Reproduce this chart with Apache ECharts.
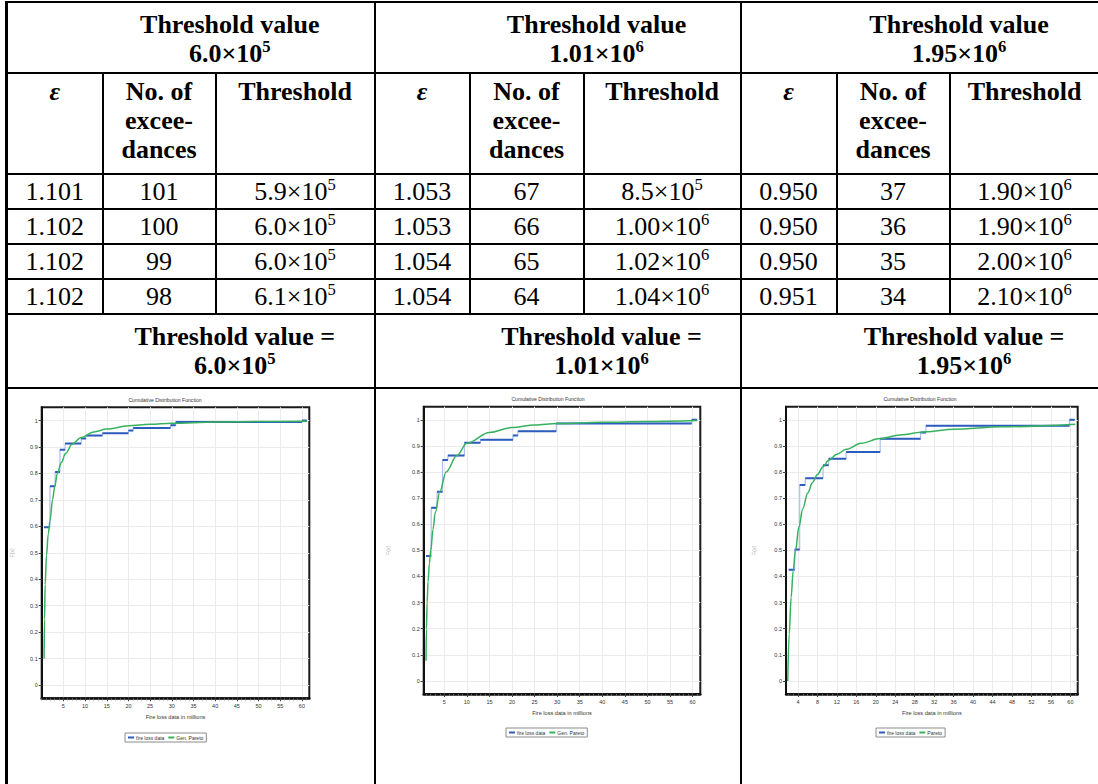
<!DOCTYPE html>
<html>
<head>
<meta charset="utf-8">
<script src="https://cdn.jsdelivr.net/npm/echarts@6/dist/echarts.min.js"></script>
<style>
  html, body { margin: 0; padding: 0; background: #fff; width: 1098px; height: 784px; overflow: hidden; }
  #tbl { position: absolute; left: 5px; top: 1px; border-collapse: collapse; table-layout: fixed; width: 1093px;
         font-family: "Liberation Serif", "Times New Roman", serif; font-size: 26px; color: #000; }
  #tbl td, #tbl th { border: 2px solid #000; padding: 0; text-align: center; line-height: 29px; overflow: hidden; }
  #tbl th { font-weight: bold; }
  #tbl tr > :first-child { border-left-width: 3px; }
  #tbl sup { font-size: 0.64em; vertical-align: super; line-height: 0; }
  #tbl tr.h1 { height: 71px; } #tbl tr.h1 th { vertical-align: middle; padding-left: 78px; padding-top: 2px; }
  #tbl tr.h2 { height: 101px; } #tbl tr.h2 th { vertical-align: top; padding-top: 3px; }
  #tbl tr.d { height: 35px; } #tbl tr.d td { vertical-align: middle; }
  #tbl tr.f { height: 74px; } #tbl tr.f th { vertical-align: middle; padding-left: 88px; }
  #tbl tr.c { height: 420px; }
  #tbl .eps { font-style: italic; }
  #chart { position: absolute; left: 0; top: 388px; width: 1098px; height: 396px; z-index: 2; }
</style>
</head>
<body>
<table id="tbl">
  <colgroup>
    <col style="width:96px"><col style="width:113px"><col style="width:159px">
    <col style="width:95px"><col style="width:114px"><col style="width:157px">
    <col style="width:96px"><col style="width:113px"><col style="width:150px">
  </colgroup>
  <tbody id="tbody"></tbody>
</table>
<div id="chart"></div>
<script>
// ---------- table content ----------
const groupThresholds = ['6.0×10<sup>5</sup>', '1.01×10<sup>6</sup>', '1.95×10<sup>6</sup>'];
const epsilonVals = [
  ['1.101', '1.102', '1.102', '1.102'],
  ['1.053', '1.053', '1.054', '1.054'],
  ['0.950', '0.950', '0.950', '0.951']
];
const exceedanceVals = [
  ['101', '100', '99', '98'],
  ['67', '66', '65', '64'],
  ['37', '36', '35', '34']
];
const thresholdVals = [
  ['5.9×10<sup>5</sup>', '6.0×10<sup>5</sup>', '6.0×10<sup>5</sup>', '6.1×10<sup>5</sup>'],
  ['8.5×10<sup>5</sup>', '1.00×10<sup>6</sup>', '1.02×10<sup>6</sup>', '1.04×10<sup>6</sup>'],
  ['1.90×10<sup>6</sup>', '1.90×10<sup>6</sup>', '2.00×10<sup>6</sup>', '2.10×10<sup>6</sup>']
];

// ---------- chart data (x in millions, y = cumulative probability) ----------
const xTicks5 = [5, 10, 15, 20, 25, 30, 35, 40, 45, 50, 55, 60];
const xTicks4 = [4, 8, 12, 16, 20, 24, 28, 32, 36, 40, 44, 48, 52, 56, 60];
const yTicks = [0, 0.1, 0.2, 0.3, 0.4, 0.5, 0.6, 0.7, 0.8, 0.9, 1];

const c1StepX = [0.55, 1.9, 3.1, 4.2, 5.4, 9.1, 10.2, 14.0, 20.0, 21.1, 29.7, 30.9, 60.0, 61.1];
const c1StepY = [0.597, 0.752, 0.805, 0.890, 0.913, 0.932, 0.943, 0.952, 0.962, 0.972, 0.982, 0.994, 1.000, 1.000];
const c1FitX = [0.55, 0.65, 0.8, 1.1, 1.5, 1.9, 2.5, 3.0, 3.6, 4.5, 5.5, 7.0, 9.0, 12.0, 15.0, 20.0, 25.0, 30.0, 40.0, 50.0, 61.2];
const c1FitY = [0.10, 0.25, 0.38, 0.49, 0.57, 0.62, 0.70, 0.75, 0.80, 0.84, 0.875, 0.91, 0.935, 0.957, 0.968, 0.980, 0.986, 0.990, 0.994, 0.996, 0.997];

const c2StepX = [0.95, 2.1, 3.4, 4.6, 5.8, 9.45, 13.0, 20.2, 21.3, 29.8, 59.8, 61.0];
const c2StepY = [0.478, 0.663, 0.724, 0.846, 0.863, 0.912, 0.923, 0.940, 0.956, 0.986, 1.000, 1.000];
const c2FitX = [0.95, 1.05, 1.2, 1.4, 1.7, 2.0, 2.5, 3.0, 4.0, 5.4, 7.8, 10.0, 15.0, 20.0, 25.0, 30.0, 40.0, 50.0, 61.0];
const c2FitY = [0.077, 0.20, 0.30, 0.38, 0.45, 0.50, 0.58, 0.645, 0.724, 0.800, 0.863, 0.910, 0.951, 0.970, 0.980, 0.986, 0.990, 0.993, 0.997];

const c3StepX = [2.09, 3.32, 4.35, 5.5, 9.15, 10.3, 13.9, 20.9, 29.2, 30.3, 59.8, 60.9];
const c3StepY = [0.426, 0.503, 0.750, 0.776, 0.826, 0.851, 0.877, 0.927, 0.951, 0.977, 1.000, 1.000];
const c3FitX = [1.9, 2.2, 2.6, 3.0, 3.5, 4.2, 5.0, 6.0, 7.0, 8.0, 9.15, 10.3, 12.0, 13.9, 17.0, 20.9, 25.0, 30.3, 36.0, 46.0, 61.0];
const c3FitY = [0.00, 0.18, 0.32, 0.42, 0.50, 0.59, 0.66, 0.72, 0.76, 0.79, 0.82, 0.845, 0.868, 0.887, 0.910, 0.928, 0.942, 0.954, 0.964, 0.973, 0.983];

const seriesNames = ['fire loss data', 'Gen. Pareto', 'Pareto'];
const chartTitle = 'Cumulative Distribution Function';
const xAxisTitle = 'Fire loss data in millions';
const yAxisTitle = 'F(x)';

// ---------- build table ----------
(function buildTable() {
  const tb = document.getElementById('tbody');
  let h = '<tr class="h1">';
  groupThresholds.forEach(t => { h += '<th colspan="3">Threshold value<br>' + t + '</th>'; });
  h += '</tr><tr class="h2">';
  for (let g = 0; g < 3; g++) h += '<th class="eps">ε</th><th>No. of<br>excee-<br>dances</th><th>Threshold</th>';
  h += '</tr>';
  for (let r = 0; r < 4; r++) {
    h += '<tr class="d">';
    for (let g = 0; g < 3; g++) h += '<td>' + epsilonVals[g][r] + '</td><td>' + exceedanceVals[g][r] + '</td><td>' + thresholdVals[g][r] + '</td>';
    h += '</tr>';
  }
  h += '<tr class="f">';
  groupThresholds.forEach(t => { h += '<th colspan="3">Threshold value =<br>' + t + '</th>'; });
  h += '</tr><tr class="c"><td colspan="3"></td><td colspan="3"></td><td colspan="3"></td></tr>';
  tb.innerHTML = h;
})();

// ---------- build charts ----------
const FONT = "'Liberation Sans Narrow', 'Arial Narrow', 'Liberation Sans', sans-serif";
const BLUE_DARK = '#2d5cbf';
const BLUE_LIGHT = '#a9c1ee';
const GREEN = '#36b25f';

const panels = [
  { grid: { left: 41.7, top: 19.3, width: 267.6, height: 291 }, xMin: 0, xMax: 61.7, ticks: xTicks5,
    stepX: c1StepX, stepY: c1StepY, fitX: c1FitX, fitY: c1FitY, fitName: seriesNames[1],
    titleX: 165, titleY: 12, nameGap: 14, yNameGap: 27, legendLeft: 125, legendTop: 345 },
  { grid: { left: 423.7, top: 18.7, width: 276.6, height: 287.3 }, xMin: 0.44, xMax: 61.7, ticks: xTicks5,
    stepX: c2StepX, stepY: c2StepY, fitX: c2FitX, fitY: c2FitY, fitName: seriesNames[1],
    titleX: 548, titleY: 11.3, nameGap: 12.5, yNameGap: 33, legendLeft: 506, legendTop: 340 },
  { grid: { left: 786, top: 18.7, width: 291.7, height: 287.3 }, xMin: 1.54, xMax: 61.5, ticks: xTicks4,
    stepX: c3StepX, stepY: c3StepY, fitX: c3FitX, fitY: c3FitY, fitName: seriesNames[2],
    titleX: 920, titleY: 11.3, nameGap: 12.5, yNameGap: 30, legendLeft: 876, legendTop: 340 }
];

const option = { backgroundColor: 'transparent', animation: false, grid: [], xAxis: [], yAxis: [], series: [], legend: [], graphic: [] };

panels.forEach((p, i) => {
  option.grid.push(Object.assign({ show: true, borderColor: '#1a1a1a', borderWidth: 2, backgroundColor: '#fff' }, p.grid));
  // main x axis
  option.xAxis.push({
    type: 'value', gridIndex: i, min: p.xMin, max: p.xMax, position: 'bottom',
    axisLine: { show: true, onZero: false, lineStyle: { color: '#111', width: 2.5 } },
    axisTick: { show: true, customValues: p.ticks, length: 3, lineStyle: { color: '#444', width: 1 } },
    axisLabel: { customValues: p.ticks, fontSize: 5.5, color: '#333', margin: 5, fontFamily: FONT },
    splitLine: { show: true, lineStyle: { color: '#ebebeb', width: 1 } },
    name: xAxisTitle, nameLocation: 'middle', nameGap: p.nameGap,
    nameTextStyle: { fontSize: 5.6, color: '#333', fontFamily: FONT }
  });
  // minor tick axis (every unit)
  const minor = [];
  for (let v = Math.ceil(p.xMin); v <= Math.floor(p.xMax); v++) if (p.ticks.indexOf(v) < 0) minor.push(v);
  option.xAxis.push({
    type: 'value', gridIndex: i, min: p.xMin, max: p.xMax, position: 'bottom',
    axisLine: { show: false, onZero: false },
    axisTick: { show: true, customValues: minor, length: 2, lineStyle: { color: '#666', width: 1 } },
    axisLabel: { show: false }, splitLine: { show: false }
  });
  option.yAxis.push({
    type: 'value', gridIndex: i, min: -0.05, max: 1.05,
    axisLine: { show: true, onZero: false, lineStyle: { color: '#111', width: 2 } },
    axisTick: { show: true, customValues: yTicks, length: 3, lineStyle: { color: '#444', width: 1 } },
    axisLabel: { customValues: yTicks, fontSize: 5.5, color: '#333', margin: 4, fontFamily: FONT },
    splitLine: { show: true, lineStyle: { color: '#ebebeb', width: 1 } },
    name: yAxisTitle, nameLocation: 'middle', nameRotate: 90, nameGap: p.yNameGap,
    nameTextStyle: { fontSize: 5, color: '#aaa', fontFamily: FONT }
  });

  // horizontal step segments (dark blue)
  const segs = [];
  for (let k = 0; k < p.stepX.length - 1; k++) {
    segs.push([p.stepX[k], p.stepY[k]], [p.stepX[k + 1], p.stepY[k]], ['-', '-']);
  }
  option.series.push({
    name: seriesNames[0], type: 'line', xAxisIndex: 2 * i, yAxisIndex: i,
    data: segs, showSymbol: false, connectNulls: false, z: 4,
    itemStyle: { color: BLUE_DARK }, lineStyle: { color: BLUE_DARK, width: 2 }
  });
  // full step (light blue risers)
  option.series.push({
    name: seriesNames[0], type: 'line', xAxisIndex: 2 * i, yAxisIndex: i, step: 'end',
    data: p.stepX.map((x, k) => [x, p.stepY[k]]), showSymbol: false, z: 3,
    itemStyle: { color: BLUE_DARK }, lineStyle: { color: BLUE_LIGHT, width: 1.2 }
  });
  // fitted distribution (green)
  option.series.push({
    name: p.fitName, type: 'line', xAxisIndex: 2 * i, yAxisIndex: i,
    data: p.fitX.map((x, k) => [x, p.fitY[k]]), showSymbol: false, smooth: 0.35, smoothMonotone: 'x', z: 5,
    itemStyle: { color: GREEN }, lineStyle: { color: GREEN, width: 1.5 }
  });

  option.legend.push({
    left: p.legendLeft, top: p.legendTop, orient: 'horizontal',
    data: [seriesNames[0], p.fitName], icon: 'rect', itemWidth: 6, itemHeight: 2, itemGap: 4,
    borderColor: '#8c8c8c', borderWidth: 1, padding: [2, 3], selectedMode: false,
    textStyle: { fontSize: 5, color: '#333', fontFamily: FONT, padding: [0, 0, 0, -3] }
  });
  option.graphic.push({
    type: 'text', x: p.titleX, y: p.titleY, scaleX: 0.85,
    style: { text: chartTitle, fill: '#333', font: '6px ' + FONT, textAlign: 'center', textVerticalAlign: 'middle' }
  });
});

const chart = echarts.init(document.getElementById('chart'), null, { renderer: 'svg' });
chart.setOption(option);
</script>
</body>
</html>
